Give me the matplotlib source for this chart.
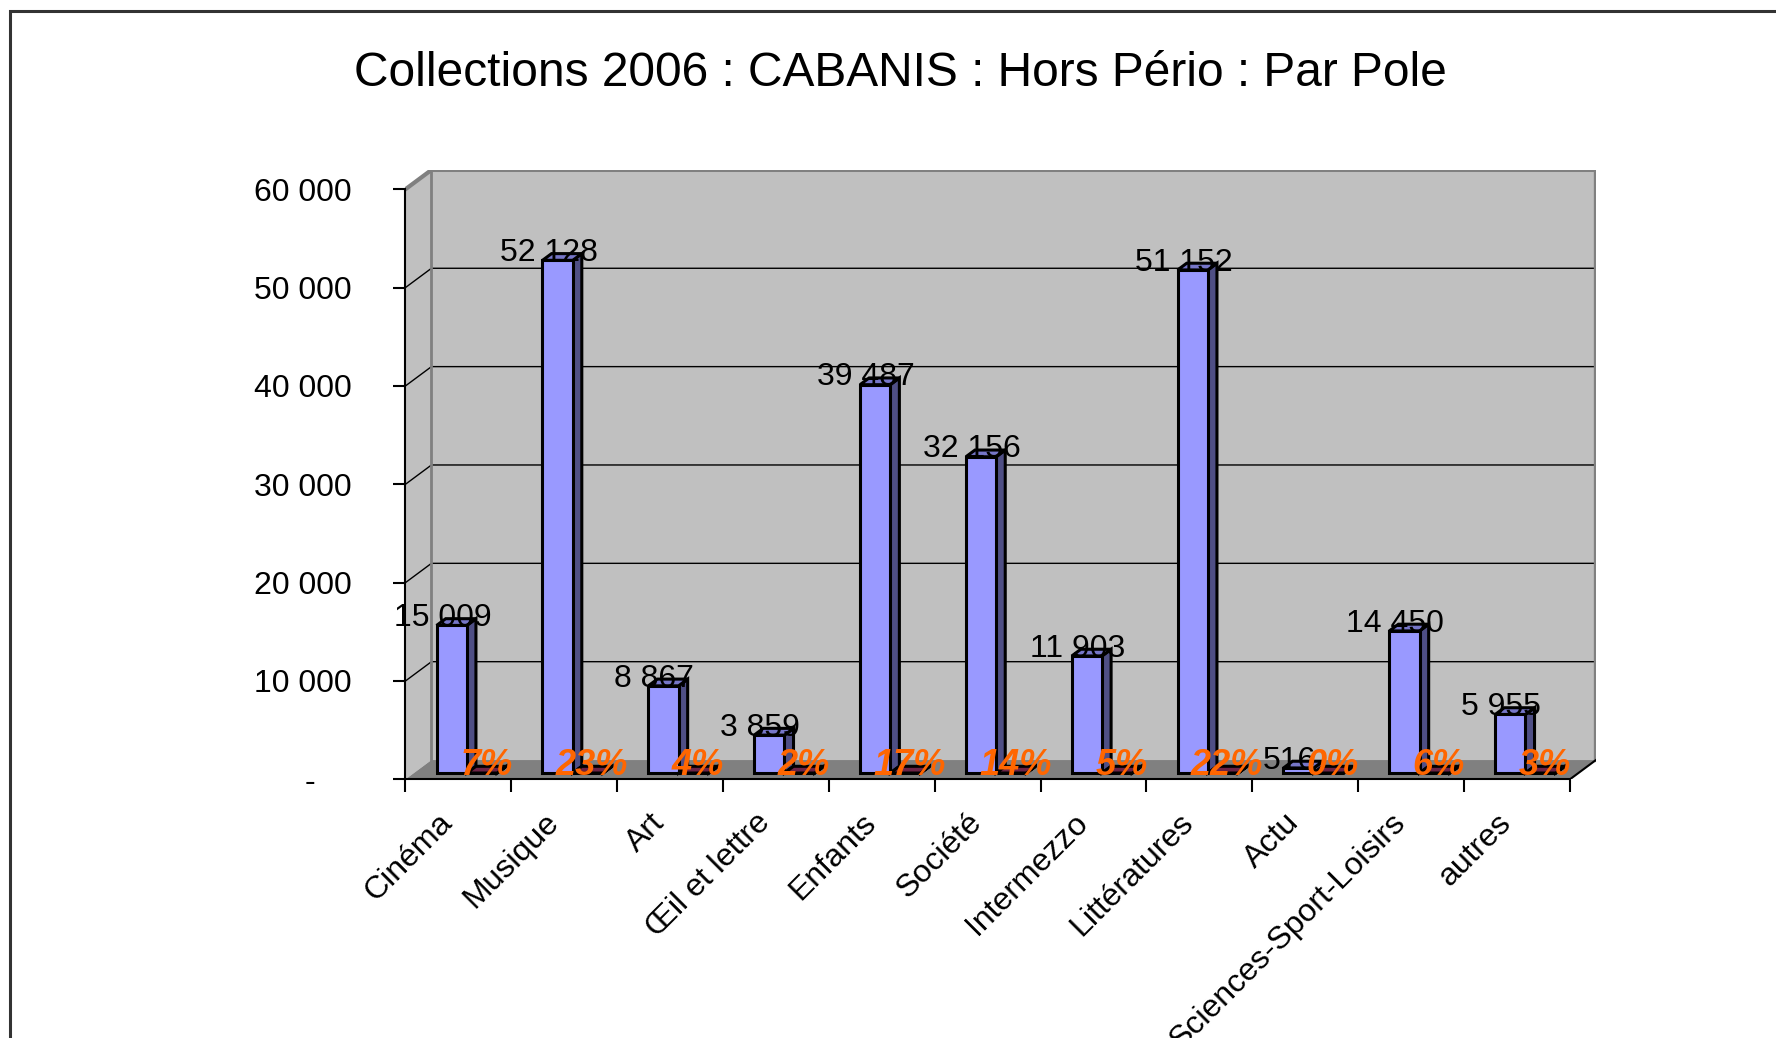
import matplotlib
matplotlib.use('Agg')
import matplotlib.pyplot as plt
from matplotlib.patches import Polygon, Rectangle
from matplotlib.transforms import ScaledTranslation

plt.rcParams['font.family'] = ['Liberation Sans', 'DejaVu Sans']

# Data
categories = ['Cinéma', 'Musique', 'Art', 'Œil et lettre', 'Enfants', 'Société',
              'Intermezzo', 'Littératures', 'Actu', 'Sciences-Sport-Loisirs', 'autres']
volumes = [15009, 52128, 8867, 3859, 39487, 32156, 11903, 51152, 516, 14450, 5955]
percents = [7, 23, 4, 2, 17, 14, 5, 22, 0, 6, 3]
y_ticks = [0, 10000, 20000, 30000, 40000, 50000, 60000]

TITLE = 'Collections 2006 : CABANIS : Hors Pério : Par Pole'

# 3D look (depth of the plot box in data units, bars sit mid-depth)
DX, DY = 0.2456, 1962
F0, F1 = 0.325, 0.675
W = 1 / 3.5
GAP = (1 - 2 * W) / 2
YMAX = 60000
N = len(categories)

BLUE, BLUE_SIDE, BLUE_TOP = '#9999FF', '#4F4F85', '#7676C8'
MAROON, MAROON_TOP = '#993366', '#6B2346'
WALL, FLOOR = '#C0C0C0', '#808080'


def fmt(v):
    return f'{v:,}'.replace(',', ' ')


fig = plt.figure(figsize=(17.76, 10.38), dpi=100)
ax = fig.add_axes([0.2283, 0.2492, 0.6703, 0.5871])
ax.set_xlim(0, N + DX)
ax.set_ylim(0, YMAX + DY)
ax.patch.set_visible(False)

# walls and floor
ax.add_patch(Rectangle((DX, DY), N, YMAX, fc=WALL, ec='none', zorder=0))
ax.add_patch(Polygon([(0, 0), (DX, DY), (DX, YMAX + DY), (0, YMAX)],
                     fc=WALL, ec='none', zorder=0))
ax.add_patch(Polygon([(0, 0), (N, 0), (N + DX, DY), (DX, DY)],
                     fc=FLOOR, ec='none', zorder=0))
for t in y_ticks[1:]:
    ax.plot([0, DX, N + DX], [t, t + DY, t + DY], color='black', lw=1, zorder=1)
ax.plot([0, DX, N + DX, N + DX], [YMAX, YMAX + DY, YMAX + DY, DY],
        color='#808080', lw=3, zorder=1, solid_joinstyle='miter')
ax.plot([DX, DX], [DY, YMAX + DY], color='#808080', lw=2, zorder=1)
ax.plot([N, N + DX], [0, DY], color='black', lw=1.5, zorder=1)

# bars
ddx, ddy = (F1 - F0) * DX, (F1 - F0) * DY
base = F0 * DY
x_blue = [i + GAP + F0 * DX for i in range(N)]
x_pct = [x + W for x in x_blue]
pct_heights = [p / 100 for p in percents]


def box_faces(x0, h, side_c, top_c, z):
    top = [(x0, base + h), (x0 + W, base + h), (x0 + W + ddx, base + h + ddy),
           (x0 + ddx, base + h + ddy)]
    side = [(x0 + W, base), (x0 + W + ddx, base + ddy),
            (x0 + W + ddx, base + h + ddy), (x0 + W, base + h)]
    ax.add_patch(Polygon(side, fc=side_c, ec='black', lw=2.2, zorder=z,
                         joinstyle='miter'))
    ax.add_patch(Polygon(top, fc=top_c, ec='black', lw=2.2, zorder=z,
                         joinstyle='miter'))


for x0, v in zip(x_blue, volumes):
    box_faces(x0, v, BLUE_SIDE, BLUE_TOP, 2.9)
ax.bar(x_blue, volumes, width=W, bottom=base, align='edge', color=BLUE,
       edgecolor='black', linewidth=2.2, zorder=3)

for x0, v in zip(x_pct, pct_heights):
    box_faces(x0, v, MAROON, MAROON_TOP, 3.4)
ax.bar(x_pct, pct_heights, width=W, bottom=base, align='edge', color=MAROON,
       edgecolor='black', linewidth=2.2, zorder=3.5)

# data labels
for x0, v in zip(x_blue, volumes):
    ax.annotate(fmt(v), xy=(x0 + W / 2, base + v), xytext=(-6.5, -0.5),
                textcoords='offset points', ha='center', va='baseline',
                fontsize=23, color='black', zorder=5)
for x0, v, p in zip(x_pct, pct_heights, percents):
    ax.annotate(f'{p}%', xy=(x0 + W / 2, base + v), xytext=(3, -1.5),
                textcoords='offset points', ha='center', va='baseline',
                fontsize=26, fontweight='bold', fontstyle='italic',
                color='#FF6600', zorder=6)

# axes
for s in ('top', 'right'):
    ax.spines[s].set_visible(False)
ax.spines['left'].set_bounds(0, YMAX)
ax.spines['bottom'].set_bounds(0, N)
for s in ('left', 'bottom'):
    ax.spines[s].set_linewidth(1.5)
    ax.spines[s].set_zorder(4)

ax.set_yticks(y_ticks, labels=['-' if t == 0 else fmt(t) for t in y_ticks])
ax.tick_params(axis='y', direction='out', length=8.6, width=1.5, pad=30,
               labelsize=23)
zero_lbl = ax.yaxis.get_major_ticks()[0].label1
zero_lbl.set_transform(zero_lbl.get_transform()
                       + ScaledTranslation(-26.6 / 72, 0, fig.dpi_scale_trans))

ax.set_xticks(range(N + 1), labels=[''] * (N + 1))
ax.tick_params(axis='x', which='major', direction='out', length=9.4, width=1.5)
ax.set_xticks([i + 0.5 for i in range(N)], labels=categories, minor=True)
ax.tick_params(axis='x', which='minor', length=0, pad=28, labelsize=23)
shift = ScaledTranslation(-7.5 / 72, 0, fig.dpi_scale_trans)
for lbl in ax.get_xticklabels(minor=True):
    lbl.set_rotation(45)
    lbl.set_ha('right')
    lbl.set_va('center')
    lbl.set_rotation_mode('anchor')
for tk in ax.xaxis.get_minor_ticks():
    tk.label1.set_transform(tk.label1.get_transform() + shift)

fig.text(0.507, 1 - 74 / 1038, TITLE, ha='center', va='center', fontsize=34.5)

# outer chart border (only left and top visible in the frame)
fig.add_artist(Rectangle((10 / 1776, -0.5), 2, 0.5 + 1 - 11 / 1038,
                         transform=fig.transFigure, fill=False,
                         ec='#333333', lw=2.2))

fig.savefig('out.png', dpi=100)
